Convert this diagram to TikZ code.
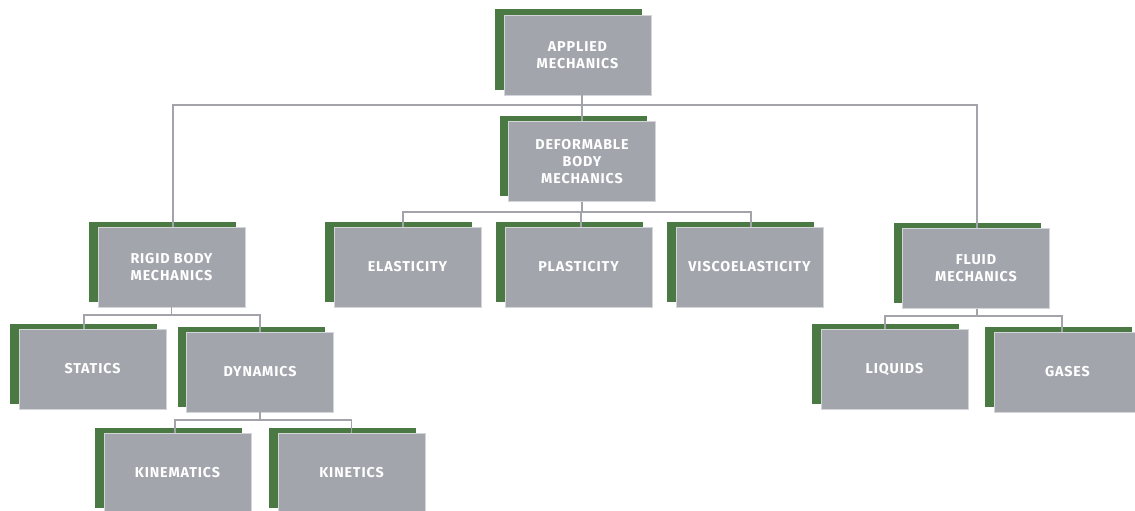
\documentclass[tikz,border=0pt]{standalone}
\usepackage{fontspec}
\setmainfont{Fira Sans}
\usetikzlibrary{shadows}
\definecolor{cardgray}{HTML}{A3A5AD}
\definecolor{cardedge}{HTML}{D4D5D9}
\definecolor{cardgreen}{HTML}{4A7943}
\definecolor{linkgray}{HTML}{A2A4AA}
\tikzset{
  card/.style={rectangle, fill=cardgray, draw=cardedge, line width=0.7pt,
    minimum width=147pt, minimum height=80pt, inner sep=0pt,
    align=center, text=white,
    font=\fontsize{14.3}{17.3}\selectfont\bfseries\addfontfeature{LetterSpace=6},
    drop shadow={shadow xshift=-9pt, shadow yshift=5.5pt, fill=cardgreen, opacity=1, draw=none}},
  link/.style={draw=linkgray, line width=1.5pt}
}
\begin{document}
\begin{tikzpicture}[x=1pt, y=-1pt]
  \useasboundingbox (0,0) rectangle (1135,511);
  \fill[white] (0,0) rectangle (1135,511);

  % top level and the three branches
  \node[card] (applied)  at (577.5,55)  {APPLIED\\MECHANICS};
  \node[card] (deform)   at (582,161.5) {DEFORMABLE\\BODY\\MECHANICS};
  \node[card] (rigid)    at (171.5,267) {RIGID BODY\\MECHANICS};
  \node[card] (fluid)    at (976,268.5) {FLUID\\MECHANICS};

  % deformable body branch
  \node[card] (elast)    at (407.5,267) {ELASTICITY};
  \node[card] (plast)    at (578.5,267) {PLASTICITY};
  \node[card] (visco)    at (749.5,267) {VISCOELASTICITY};

  % rigid body branch
  \node[card] (statics)  at (92.5,369)  {STATICS};
  \node[card] (dynamics) at (260,372)   {DYNAMICS};
  \node[card] (kinem)    at (177.5,473) {KINEMATICS};
  \node[card] (kinet)    at (351.5,473) {KINETICS};

  % fluid branch
  \node[card] (liquids)  at (894.5,369) {LIQUIDS};
  \node[card] (gases)    at (1067.5,372) {GASES};

  % bus heights
  \coordinate (busA) at (0,105);
  \coordinate (busD) at (0,212);
  \coordinate (busR) at (0,315);
  \coordinate (busY) at (0,420);
  \coordinate (busF) at (0,316);

  % applied mechanics
  \draw[link] (applied.south -| deform.north) -- (deform.north);
  \draw[link] ([xshift=1.5pt]rigid.north) -- ([xshift=1.5pt]rigid.north |- busA)
              -- ([xshift=1pt]fluid.north |- busA) -- ([xshift=1pt]fluid.north);

  % deformable body mechanics
  \draw[link] (deform.south) -- (deform.south |- busD);
  \draw[link] ([xshift=-4.5pt]elast.north) -- ([xshift=-4.5pt]elast.north |- busD)
              -- ([xshift=1.5pt]visco.north |- busD) -- ([xshift=1.5pt]visco.north);
  \draw[link] ([xshift=2.5pt]plast.north) -- ([xshift=2.5pt]plast.north |- busD);

  % rigid body mechanics
  \draw[link] (rigid.south) -- (rigid.south |- busR);
  \draw[link] ([xshift=-8.5pt]statics.north) -- ([xshift=-8.5pt]statics.north |- busR)
              -- (dynamics.north |- busR) -- (dynamics.north);

  % dynamics
  \draw[link] (dynamics.south) -- (dynamics.south |- busY);
  \draw[link] ([xshift=-2.5pt]kinem.north) -- ([xshift=-2.5pt]kinem.north |- busY)
              -- (kinet.north |- busY) -- (kinet.north);

  % fluid mechanics
  \draw[link] ([xshift=1pt]fluid.south) -- ([xshift=1pt]fluid.south |- busF);
  \draw[link] ([xshift=-9.5pt]liquids.north) -- ([xshift=-9.5pt]liquids.north |- busF)
              -- ([xshift=-5.5pt]gases.north |- busF) -- ([xshift=-5.5pt]gases.north);
\end{tikzpicture}
\end{document}
